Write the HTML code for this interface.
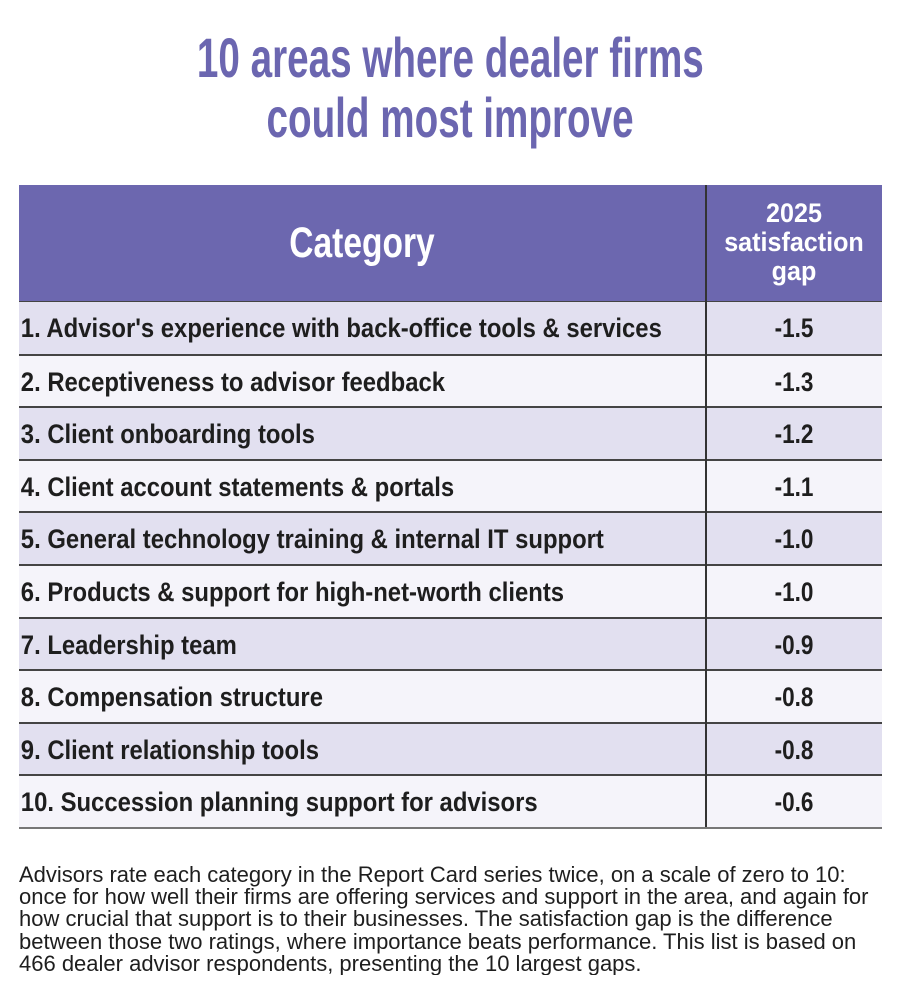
<!DOCTYPE html>
<html><head><meta charset="utf-8">
<style>
body{margin:0;width:900px;height:1004px;background:#fff;position:relative;overflow:hidden;font-family:"Liberation Sans Narrow","Liberation Sans",sans-serif;}
.title{position:absolute;left:0;width:900px;text-align:center;color:#6b66b0;font-weight:bold;font-size:56px;line-height:60px;}
.title span{display:inline-block;transform:scaleX(0.69);}
#tbl{position:absolute;left:19px;top:185px;width:863px;}
.hdr{position:absolute;left:0;top:0;width:863px;height:116px;background:#6c67af;color:#fff;font-weight:bold;}
.row{position:absolute;left:0;width:863px;border-top:2px solid #444;box-sizing:border-box;}
.cat{position:absolute;left:0;padding-left:2px;font-weight:bold;font-size:26.5px;color:#1e1e1e;white-space:nowrap;transform:scaleX(0.9);transform-origin:0 0;}
.val{position:absolute;left:687px;width:176px;text-align:center;font-weight:bold;font-size:26.5px;color:#1e1e1e;transform:scaleX(0.85);}
.div{position:absolute;left:686px;top:0;width:1.5px;background:#333;}
.note{position:absolute;left:19px;top:864px;width:880px;height:111px;overflow:hidden;font-family:"Liberation Sans",sans-serif;font-size:22px;line-height:22.2px;color:#1e1e1e;}
.note div{white-space:nowrap;transform:scaleX(1.0);transform-origin:0 0;}
</style></head><body>
<div class="title" style="top:28px"><span>10 areas where dealer firms</span></div>
<div class="title" style="top:88px"><span>could most improve</span></div>
<div id="tbl">
  <div class="hdr">
    <div style="position:absolute;left:0;width:686px;top:34px;text-align:center;font-size:43px;transform:scaleX(0.78);">Category</div>
    <div style="position:absolute;left:687px;width:176px;top:14px;text-align:center;font-size:27px;line-height:29px;transform:scaleX(0.93);">2025<br>satisfaction<br>gap</div>
  </div>
</div>
<div class="note">
<div>Advisors rate each category in the Report Card series twice, on a scale of zero to 10:</div>
<div>once for how well their firms are offering services and support in the area, and again for</div>
<div>how crucial that support is to their businesses. The satisfaction gap is the difference</div>
<div>between those two ratings, where importance beats performance. This list is based on</div>
<div>466 dealer advisor respondents, presenting the 10 largest gaps.</div>
</div>
<script>
const categories=["1. Advisor's experience with back-office tools & services","2. Receptiveness to advisor feedback","3. Client onboarding tools","4. Client account statements & portals","5. General technology training & internal IT support","6. Products & support for high-net-worth clients","7. Leadership team","8. Compensation structure","9. Client relationship tools","10. Succession planning support for advisors"];
const gaps=[-1.5,-1.3,-1.2,-1.1,-1.0,-1.0,-0.9,-0.8,-0.8,-0.6];
const tbl=document.getElementById('tbl');
const top0=116,rh=52.6;
categories.forEach((c,i)=>{
  const r=document.createElement('div');
  
  
  r.className='row';
  r.style.top=(top0+i*rh)+'px';r.style.height=rh+'px';
  r.style.background=i%2===0?'#e2e0f0':'#f5f4fa';
  if(i===0)r.style.borderTop='1px solid #444';
  const a=document.createElement('div');
  
  
  a.className='cat';a.style.top='11px';a.textContent=c;
  const b=document.createElement('div');
  
  
  b.className='val';b.style.top='11px';b.textContent=gaps[i].toFixed(1);
  r.appendChild(a);r.appendChild(b);tbl.appendChild(r);
});
const bottom=document.createElement('div');


bottom.style.cssText='position:absolute;left:0;width:863px;height:2px;background:#777;top:'+(top0+categories.length*rh)+'px';
tbl.appendChild(bottom);
const d=document.createElement('div');


d.className='div';d.style.height=(top0+categories.length*rh)+'px';
tbl.appendChild(d);
</script>
</body></html>
